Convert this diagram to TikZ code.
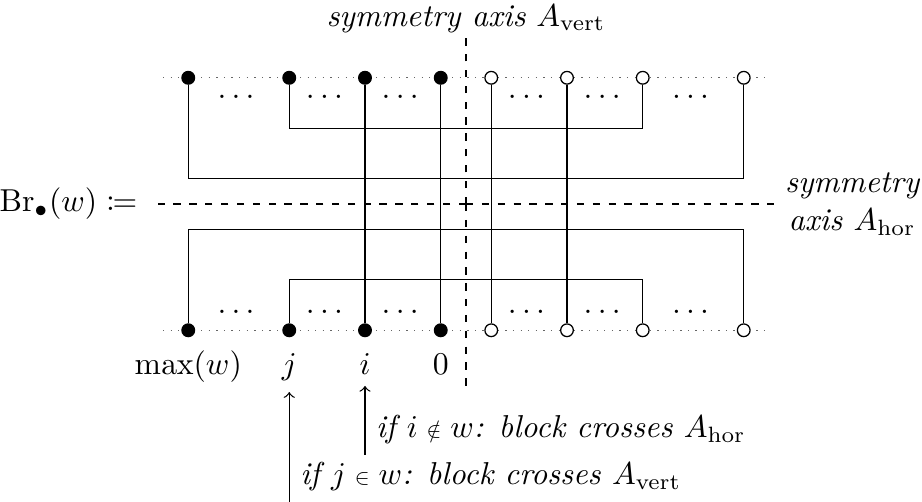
\documentclass[tikz,border=0pt]{standalone}
\usepackage{mathtools}
\usepackage{graphicx}
\usetikzlibrary{positioning}
\tikzset{
  brfull/.style={circle, draw, fill=black, minimum size=4pt, inner sep=0pt},
  bropen/.style={circle, draw, fill=white, minimum size=4pt, inner sep=0pt},
  brrow/.style={dotted, black!60},
  braxis/.style={dash pattern=on 2.3pt off 2.7pt},
  brlab/.style={anchor=base},
  brnote/.style={font=\itshape}
}
\newcommand{\smallelem}{\mathrel{\scalebox{0.7}{$\in$}}}
\newcommand{\smallnotelem}{\mathrel{\scalebox{0.7}{$\notin$}}}

\begin{document}
\begin{tikzpicture}[x=1.12cm, y=1.12cm]
      \useasboundingbox (-4.614,-2.95) rectangle (4.515,2.02);
      % rows of points
      \draw[brrow] (-3,1.25) -- (2.95,1.25);
      \draw[brrow] (-3,-1.25) -- (2.95,-1.25);
      % symmetry axes
      \coordinate (c)  at (0,0);
      \coordinate (ha) at (-3.08,0);
      \coordinate (hb) at (3.08,0);
      \coordinate (va) at (0,-1.81);
      \coordinate (vb) at (0,1.65);
      \draw[braxis] (c) -- (ha);
      \draw[braxis] (c) -- (hb);
      \draw[braxis] (c) -- (va);
      \draw[braxis] (c) -- (vb);
      \node[left=2pt of ha] (brw) {$\mathrm{Br}_\bullet(w) \coloneqq$};
      \node[right=-1pt of hb, align=center, font=\itshape] (hlab) {symmetry\\axis $A_{\mathrm{hor}}$};
      \node[brlab] (vlab) at (0,1.762) {\textit{symmetry axis} $A_{\mathrm{vert}}$};
      % top points
      \node[brfull] (tf1) at (-2.75,1.25) {};
      \node[brfull] (tf2) at (-1.75,1.25) {};
      \node[brfull] (tf3) at (-1,1.25)    {};
      \node[brfull] (tf4) at (-0.25,1.25) {};
      \node[bropen] (to1) at (0.25,1.25)  {};
      \node[bropen] (to2) at (1,1.25)     {};
      \node[bropen] (to3) at (1.75,1.25)  {};
      \node[bropen] (to4) at (2.75,1.25)  {};
      % bottom points
      \node[brfull] (bf1) at (-2.75,-1.25) {};
      \node[brfull] (bf2) at (-1.75,-1.25) {};
      \node[brfull] (bf3) at (-1,-1.25)    {};
      \node[brfull] (bf4) at (-0.25,-1.25) {};
      \node[bropen] (bo1) at (0.25,-1.25)  {};
      \node[bropen] (bo2) at (1,-1.25)     {};
      \node[bropen] (bo3) at (1.75,-1.25)  {};
      \node[bropen] (bo4) at (2.75,-1.25)  {};
      % dots between points
      \node (dt1) at (-2.25,1.06)  {$\dots$};
      \node (dt2) at (-1.375,1.06) {$\dots$};
      \node (dt3) at (-0.625,1.06) {$\dots$};
      \node (dt4) at (0.625,1.06)  {$\dots$};
      \node (dt5) at (1.375,1.06)  {$\dots$};
      \node (dt6) at (2.25,1.06)   {$\dots$};
      \node (db1) at (-2.25,-1.07)  {$\dots$};
      \node (db2) at (-1.375,-1.07) {$\dots$};
      \node (db3) at (-0.625,-1.07) {$\dots$};
      \node (db4) at (0.625,-1.07)  {$\dots$};
      \node (db5) at (1.375,-1.07)  {$\dots$};
      \node (db6) at (2.25,-1.07)   {$\dots$};
      % blocks
      \coordinate (kt1) at (0,0.75);
      \coordinate (kt2) at (0,0.25);
      \coordinate (kb2) at (0,-0.25);
      \coordinate (kb1) at (0,-0.75);
      \draw (tf1) |- (kt2) -| (to4);
      \draw (tf2) |- (kt1) -| (to3);
      \draw (bf1) |- (kb2) -| (bo4);
      \draw (bf2) |- (kb1) -| (bo3);
      \draw (tf3) -- (bf3);
      \draw (tf4) -- (bf4);
      \draw (to1) -- (bo1);
      \draw (to2) -- (bo2);
      % labels
      \node[brlab] (lm) at (-2.75,-1.69) {$\max(w)$};
      \node[brlab] (lj) at (-1.75,-1.69) {$j$};
      \node[brlab] (li) at (-1,-1.69)    {$i$};
      \node[brlab] (l0) at (-0.25,-1.69) {$0$};
      \coordinate (ai) at (-1,-2.485);
      \coordinate (aj) at (-1.75,-2.95);
      \draw[->] (ai) -- (li);
      \draw[->] (aj) -- (lj);
      \node[brnote, above right=0pt of ai] (ni) {if $i \smallnotelem w$: block crosses $A_{\mathrm{hor}}$};
      \node[brnote, above right=0pt of aj] (nj) {if $j \smallelem w$: block crosses $A_{\mathrm{vert}}$};
    \end{tikzpicture}
\end{document}
